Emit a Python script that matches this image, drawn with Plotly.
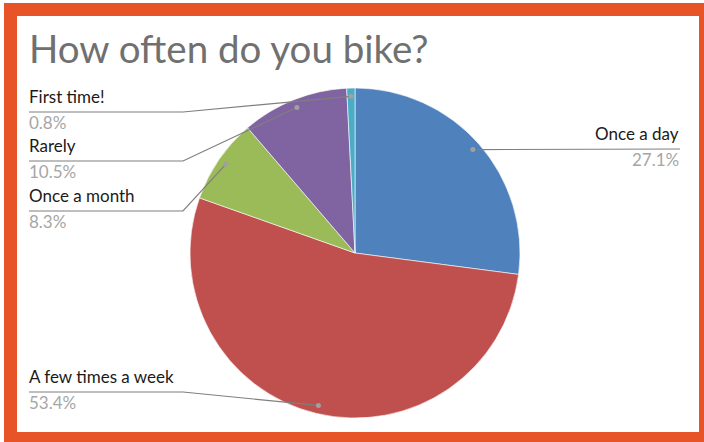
import math
import plotly.graph_objects as go

# ---- data ----
categories = ["Once a day", "A few times a week", "Once a month", "Rarely", "First time!"]
percent = [27.1, 53.4, 8.3, 10.5, 0.8]
colors = ["#4F81BD", "#C0504D", "#9BBB59", "#8064A2", "#4BACC6"]
title_text = "How often do you bike?"

# ---- layout constants (pixels) ----
W, H = 704, 442
CX, CY, R = 355, 253, 165
DOT_R = 0.95
FONT = "Lato"

fig = go.Figure()

fig.add_trace(go.Pie(
    labels=categories, values=percent, sort=False, direction="clockwise", rotation=0,
    marker=dict(colors=colors, line=dict(color="white", width=0.6)),
    textinfo="none", hoverinfo="label+percent", showlegend=False,
    domain=dict(x=[(CX - R) / W, (CX + R) / W], y=[(H - CY - R) / H, (H - CY + R) / H]),
))

# invisible pixel-space axes for leader lines and labels
fig.add_trace(go.Scatter(x=[0, W], y=[0, H], mode="markers", marker=dict(opacity=0),
                         hoverinfo="skip", showlegend=False))

total = sum(percent)
cum = 0.0
dots = []
for v in percent:
    mid = (cum + v / 2) / total * 2 * math.pi
    dots.append((CX + DOT_R * R * math.sin(mid), CY - DOT_R * R * math.cos(mid)))
    cum += v

shapes = []
annotations = []
LINE_C = "#7F7F7F"
DOT_C = "#A0A0A0"
NAME_C = "#1A1A1A"
PCT_C = "#A6A6A6"
LS = 17
PS = 17

# label placement: (line y, elbow x, side)
place = {
    "Once a day": (149, None, "right"),
    "A few times a week": (392, 183, "left"),
    "Once a month": (211, 183, "left"),
    "Rarely": (161, 183, "left"),
    "First time!": (112, 183, "left"),
}

for name, v, (dx, dy) in zip(categories, percent, dots):
    ly, ex, side = place[name]
    if side == "right":
        path = f"M {dx},{dy} L 680,{ly}"
        tx, anchor = 681, "right"
    else:
        path = f"M {dx},{dy} L {ex},{ly} L 29,{ly}"
        tx, anchor = 27, "left"
    shapes.append(dict(type="path", xref="x", yref="y", path=path,
                       line=dict(color=LINE_C, width=1.2), layer="above"))
    shapes.append(dict(type="circle", xref="x", yref="y", x0=dx - 2.5, x1=dx + 2.5,
                       y0=dy - 2.5, y1=dy + 2.5, fillcolor=DOT_C, line=dict(width=0),
                       layer="above"))
    annotations.append(dict(x=tx, y=ly - 16, xref="x", yref="y", text=name, showarrow=False,
                            xanchor=anchor, yanchor="middle",
                            font=dict(family=FONT, size=LS, color=NAME_C)))
    annotations.append(dict(x=tx, y=ly + 10, xref="x", yref="y", text=f"{v:.1f}%",
                            showarrow=False, xanchor=anchor, yanchor="middle",
                            font=dict(family=FONT, size=PS, color=PCT_C)))

annotations.append(dict(x=27, y=48, xref="x", yref="y", text=title_text, showarrow=False,
                        xanchor="left", yanchor="middle",
                        font=dict(family=FONT, size=38.5, color="#707070")))

# orange frame
shapes.append(dict(type="rect", xref="x", yref="y", x0=10.5, x1=705.5, y0=9.5, y1=438.5,
                   line=dict(color="#E65427", width=13), fillcolor="rgba(0,0,0,0)",
                   layer="above"))

fig.update_layout(
    width=W, height=H, margin=dict(l=0, r=0, t=0, b=0),
    paper_bgcolor="white", plot_bgcolor="rgba(0,0,0,0)",
    xaxis=dict(range=[0, W], visible=False, fixedrange=True),
    yaxis=dict(range=[H, 0], visible=False, fixedrange=True),
    shapes=shapes, annotations=annotations, showlegend=False,
)

fig.write_html("out.html", config={"displayModeBar": False},
               post_script="document.body.style.margin='0';document.body.style.overflow='hidden';")
